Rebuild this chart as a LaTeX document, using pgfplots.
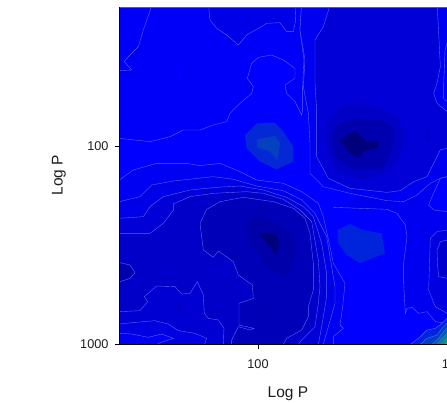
\documentclass[border=0pt]{standalone}
\usepackage{fontspec}
\setmainfont{Liberation Sans}
\usepackage{pgfplots}
\pgfplotsset{compat=1.18}
\definecolor{ct}{RGB}{88,100,245}
\definecolor{txt}{RGB}{30,30,30}
\foreach \b in {125,170,175,185,190,198,200,205,210,215,225,232,240,243,248,250,255}{\xglobal\definecolor{b\b}{RGB}{0,0,\b}}
\definecolor{bl1}{RGB}{5,40,215}
\definecolor{bl2}{RGB}{5,65,190}
\definecolor{bl3}{RGB}{0,35,220}
\definecolor{f1}{RGB}{0,35,225}
\definecolor{f2}{RGB}{0,65,195}
\definecolor{f3}{RGB}{0,95,170}
\definecolor{f4}{RGB}{0,125,145}
\definecolor{f5}{RGB}{0,150,110}
\definecolor{f6}{RGB}{0,180,70}
\definecolor{topl}{RGB}{95,95,115}
\pgfplotsset{
  lev/.style={fill=#1,draw=ct,line width=0.4pt,forget plot},
  pat/.style={fill=#1,draw=none,forget plot},
  con/.style={draw=ct,line width=0.4pt,forget plot}
}
\begin{document}
\begin{tikzpicture}
\useasboundingbox (0pt,0pt) rectangle (447pt,402pt);
\clip (0pt,0pt) rectangle (447pt,402pt);
\begin{axis}[
  at={(119.5pt,57.67pt)},anchor=south west,
  scale only axis,width=337pt,height=337pt,
  xmin=358.5,xmax=1369.5,ymin=22,ymax=1033,y dir=reverse,
  axis on top,axis line style={black,line width=0.7pt},
  xtick={774,1368},xticklabels={100,1000},
  ytick={438,1033},yticklabels={100,1000},
  tick align=outside,tick pos=left,major tick length=4.5pt,
  tick style={black,line width=0.6pt},
  every tick label/.append style={font=\fontsize{12.7}{14}\selectfont,text=txt},
  xlabel={Log P},ylabel={Log P},
  label style={font=\fontsize{15.5}{18}\selectfont,text=txt},
  xlabel style={at={(axis description cs:0.5,-0.1465)},anchor=center},
  ylabel style={at={(axis description cs:-0.1795,0.5015)},anchor=center},
  xticklabel style={yshift=-7pt},
  yticklabel style={xshift=-3pt},
]
% base level
\addplot[pat=b255] coordinates {(340,10)(1400,10)(1400,1050)(340,1050)} --cycle;
% upper-left level
\addplot[lev=b248] coordinates {(340,10)(905,10)(900,90)(912,180)(908,260)(908,330)(905,345)(885,305)(860,280)(855,255)(885,235)(885,205)(850,180)(815,165)(775,172)(755,190)(742,235)(760,260)(755,280)(720,310)(690,340)(680,365)(640,375)(600,390)(550,390)(510,410)(450,425)(358,415)(340,415)} --cycle;
\addplot[pat=b255] coordinates {(540,185)(550,215)(540,245)(525,215)} --cycle;
\addplot[con] coordinates {(340,213)(395,210)(373,185)(385,170)(415,140)(430,90)(458,10)};
\addplot[lev=b232] coordinates {(625,10)(630,60)(650,85)(680,105)(715,135)(740,105)(775,85)(800,70)(840,68)(860,95)(880,95)(887,60)(885,10)} --cycle;
% right lower level
\addplot[pat=b240] coordinates {(1000,622)(1161,628)(1191,640)(1216,675)(1221,710)(1211,790)(1211,850)(1216,940)(1221,925)(1236,922)(1256,940)(1281,935)(1306,965)(1341,970)(1400,970)(1400,500)(1100,585)} --cycle;
\addplot[con] coordinates {(1000,622)(1161,628)(1191,640)(1216,675)(1221,710)(1211,790)(1211,850)(1216,940)(1221,925)(1236,922)(1256,940)(1281,935)(1306,965)(1341,970)(1400,970)};
\addplot[lev=b225] coordinates {(1400,690)(1341,690)(1311,695)(1291,715)(1289,780)(1286,870)(1306,920)(1341,940)(1400,940)} --cycle;
\addplot[lev=b205] coordinates {(1400,720)(1341,720)(1321,725)(1311,750)(1313,800)(1316,830)(1341,835)(1400,835)} --cycle;
% upper-right levels
\addplot[lev=b240] coordinates {(905,10)(900,90)(915,180)(910,260)(925,340)(930,430)(930,520)(970,560)(1050,580)(1161,602)(1211,605)(1251,585)(1291,550)(1321,535)(1341,530)(1400,530)(1400,10)} --cycle;
\addplot[lev=b215] coordinates {(992,10)(970,80)(945,120)(945,250)(950,330)(950,470)(985,535)(1050,565)(1161,577)(1201,572)(1241,545)(1281,530)(1296,500)(1321,450)(1341,445)(1400,440)(1400,335)(1341,335)(1311,310)(1301,280)(1311,250)(1321,200)(1316,100)(1311,10)} --cycle;
\addplot[lev=b250] coordinates {(1400,125)(1341,130)(1335,150)(1331,250)(1331,295)(1341,305)(1400,305)} --cycle;
\addplot[lev=b255] coordinates {(1400,530)(1341,530)(1321,535)(1296,590)(1286,615)(1301,630)(1341,635)(1400,635)} --cycle;
\addplot[pat=b198] coordinates {(980,365)(1020,320)(1070,305)(1130,320)(1190,345)(1215,395)(1205,460)(1170,515)(1090,540)(1010,515)(985,465)(975,405)} --cycle;
\addplot[pat=b175] coordinates {(1005,380)(1060,355)(1140,360)(1180,380)(1180,435)(1150,505)(1070,510)(1010,480)(995,425)} --cycle;
\addplot[pat=b125] coordinates {(1020,420)(1065,393)(1100,425)(1135,425)(1135,443)(1090,455)(1075,475)(1045,455)} --cycle;
\addplot[pat=b200] coordinates {(1285,385)(1293,410)(1285,430)(1278,410)} --cycle;
% lighter blobs
\addplot[pat=bl1] coordinates {(735,405)(770,370)(825,368)(850,395)(880,440)(880,485)(830,508)(780,485)(740,445)} --cycle;
\addplot[pat=bl2] coordinates {(772,418)(825,408)(840,430)(833,480)(810,455)(772,442)} --cycle;
\addplot[pat=bl3] coordinates {(1050,672)(1090,690)(1145,700)(1155,760)(1080,790)(1040,765)(1015,730)(1012,690)} --cycle;
% lower-left nested levels
\addplot[lev=b243] coordinates {(340,540)(358,540)(400,510)(470,490)(560,490)(600,497)(660,490)(720,515)(770,540)(850,550)(905,575)(955,610)(970,650)(990,740)(1000,790)(1035,850)(1028,920)(1020,975)(1030,985)(1000,1010)(1000,1050)(340,1050)} --cycle;
\addplot[lev=b232] coordinates {(340,605)(358,605)(420,590)(455,555)(520,543)(640,530)(700,538)(770,558)(850,572)(905,600)(945,640)(980,710)(1005,860)(1005,910)(985,980)(970,1033)(970,1050)(340,1050)} --cycle;
\addplot[lev=b215] coordinates {(340,655)(358,655)(430,650)(450,620)(490,590)(570,570)(650,562)(720,558)(790,570)(860,592)(910,620)(940,650)(965,730)(980,820)(980,890)(965,980)(955,1033)(955,1050)(340,1050)} --cycle;
\addplot[lev=b200] coordinates {(340,700)(358,700)(450,700)(490,670)(520,630)(520,612)(570,590)(640,580)(740,575)(790,580)(850,598)(900,630)(935,665)(955,780)(960,860)(955,910)(945,980)(905,1020)(895,1033)(895,1050)(340,1050)} --cycle;
\addplot[lev=b185] coordinates {(620,628)(660,605)(730,592)(820,605)(880,625)(915,655)(930,700)(940,790)(940,870)(925,920)(925,950)(905,990)(860,1015)(850,1033)(850,1050)(695,1050)(695,1020)(715,980)(750,990)(762,985)(717,975)(717,910)(760,895)(757,855)(715,825)(700,785)(655,753)(640,772)(610,750)(600,670)} --cycle;
\addplot[pat=b170] coordinates {(735,690)(770,645)(825,665)(880,705)(890,750)(865,830)(815,815)(765,745)} --cycle;
\addplot[pat=b125] coordinates {(775,700)(825,700)(840,735)(825,765)(800,730)} --cycle;
\addplot[pat=b175] coordinates {(785,925)(792,940)(785,958)(778,940)} --cycle;
% lower-left corner
\addplot[lev=b175] coordinates {(340,788)(360,788)(390,795)(405,818)(390,835)(360,845)(340,845)} --cycle;
\addplot[lev=b210] coordinates {(340,935)(360,935)(420,932)(443,905)(433,890)(470,858)(525,860)(545,882)(570,880)(592,845)(610,885)(613,940)(625,955)(655,960)(672,985)(670,1030)(670,1050)(340,1050)} --cycle;
\addplot[pat=b190] coordinates {(540,905)(547,920)(540,940)(533,920)} --cycle;
\addplot[lev=b225] coordinates {(340,972)(360,972)(395,968)(465,962)(505,972)(535,992)(585,1000)(620,1015)(615,1030)(600,1050)(340,1050)} --cycle;
\addplot[lev=b243] coordinates {(340,1000)(360,1000)(395,1002)(445,1012)(485,1002)(520,1015)(475,1030)(460,1050)(340,1050)} --cycle;
% lower-right corner fan
\addplot[lev=f1] coordinates {(1231,1033)(1261,1010)(1281,990)(1306,985)(1326,970)(1341,955)(1400,910)(1400,1050)(1231,1050)} --cycle;
\addplot[lev=f2] coordinates {(1261,1033)(1281,1015)(1311,1005)(1326,985)(1341,970)(1400,925)(1400,1050)(1261,1050)} --cycle;
\addplot[lev=f3] coordinates {(1296,1033)(1316,1015)(1331,995)(1341,985)(1400,940)(1400,1050)(1296,1050)} --cycle;
\addplot[lev=f4] coordinates {(1311,1033)(1326,1015)(1341,1000)(1400,950)(1400,1050)(1311,1050)} --cycle;
\addplot[lev=f5] coordinates {(1321,1033)(1333,1018)(1341,1010)(1400,960)(1400,1050)(1321,1050)} --cycle;
\addplot[lev=f6] coordinates {(1331,1033)(1341,1020)(1400,970)(1400,1050)(1331,1050)} --cycle;
\end{axis}
\draw[color=topl,line width=0.8pt] (119.5pt,394.6pt)--(447pt,394.6pt);
\end{tikzpicture}
\end{document}
